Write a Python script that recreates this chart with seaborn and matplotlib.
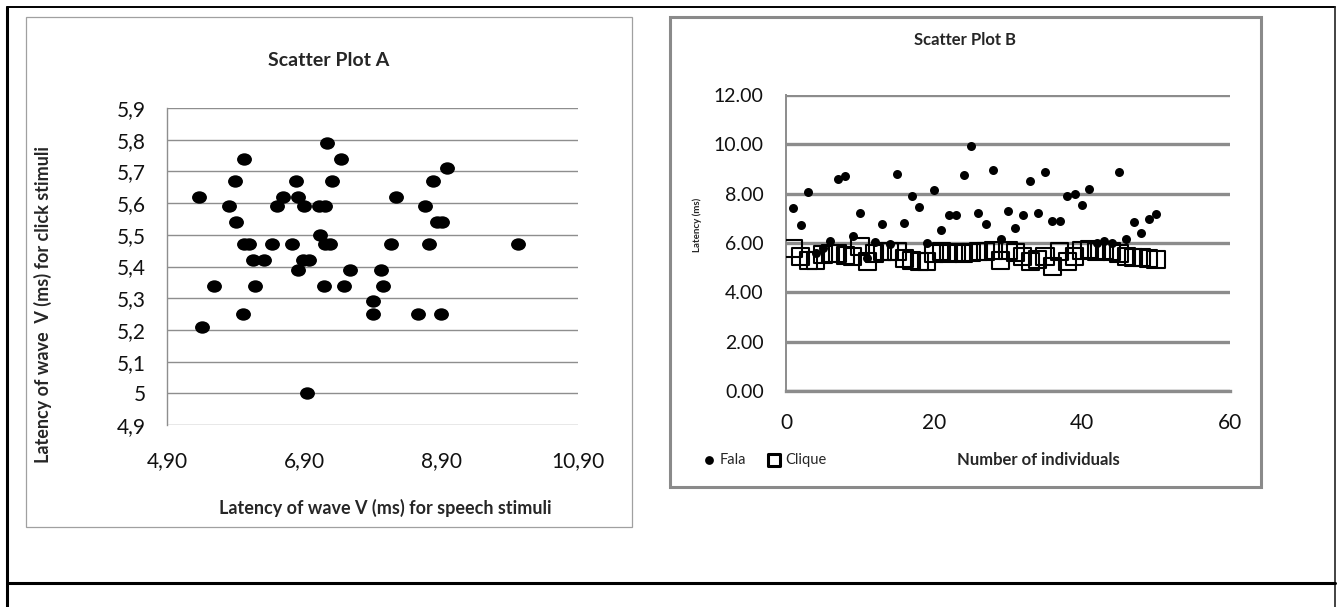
import numpy as np
import pandas as pd
import matplotlib
matplotlib.use('Agg')
import matplotlib.pyplot as plt
from matplotlib.lines import Line2D
from matplotlib.patches import Rectangle
from matplotlib.path import Path
from matplotlib.markers import MarkerStyle
from matplotlib.transforms import Affine2D, Bbox, TransformedBbox
import seaborn as sns

# ---- data: Scatter Plot A (speech vs click latency) ----
speech_lat = [7.23, 6.03, 7.44, 8.99, 5.89, 6.78, 7.31, 8.79, 5.37, 6.60,
              6.81, 8.25, 5.80, 6.51, 6.90, 7.12, 7.21, 8.66, 5.91, 8.84,
              8.91, 7.14, 6.03, 6.10, 6.43, 6.72, 7.21, 7.28, 8.17, 8.73,
              10.02, 6.15, 6.31, 6.88, 6.98, 6.81, 7.57, 8.03, 5.59, 6.18,
              7.19, 7.49, 8.06, 7.91, 6.01, 7.91, 8.56, 8.90, 5.41, 6.94]
click_lat = [5.79, 5.74, 5.74, 5.71, 5.67, 5.67, 5.67, 5.67, 5.62, 5.62,
             5.62, 5.62, 5.59, 5.59, 5.59, 5.59, 5.59, 5.59, 5.54, 5.54,
             5.54, 5.50, 5.47, 5.47, 5.47, 5.47, 5.47, 5.47, 5.47, 5.47,
             5.47, 5.42, 5.42, 5.42, 5.42, 5.39, 5.39, 5.39, 5.34, 5.34,
             5.34, 5.34, 5.34, 5.29, 5.25, 5.25, 5.25, 5.25, 5.21, 5.00]
a_xticks = [4.9, 6.9, 8.9, 10.9]
a_xticklabels = ['4,90', '6,90', '8,90', '10,90']
a_yticks = [4.9, 5.0, 5.1, 5.2, 5.3, 5.4, 5.5, 5.6, 5.7, 5.8, 5.9]
a_yticklabels = ['4,9', '5', '5,1', '5,2', '5,3', '5,4', '5,5', '5,6', '5,7', '5,8', '5,9']

# ---- data: Scatter Plot B (per individual) ----
individual = list(range(1, 51))
fala = [7.43, 6.72, 8.05, 5.60, 5.80, 6.10, 8.60, 8.70, 6.30, 7.22,
        5.40, 6.05, 6.76, 5.94, 8.78, 6.81, 7.89, 7.44, 6.00, 8.13,
        6.51, 7.15, 7.15, 8.75, 9.95, 7.23, 6.78, 8.94, 6.15, 7.30,
        6.60, 7.12, 8.51, 7.22, 8.87, 6.90, 6.90, 7.89, 8.00, 7.53,
        8.20, 5.98, 6.07, 5.98, 8.87, 6.15, 6.85, 6.40, 6.96, 7.16]
clique = [5.76, 5.44, 5.30, 5.30, 5.53, 5.57, 5.57, 5.50, 5.44, 5.84,
          5.23, 5.57, 5.64, 5.64, 5.64, 5.37, 5.30, 5.23, 5.23, 5.57,
          5.64, 5.57, 5.60, 5.57, 5.60, 5.64, 5.64, 5.70, 5.30, 5.70,
          5.60, 5.47, 5.23, 5.33, 5.44, 5.03, 5.64, 5.23, 5.44, 5.70,
          5.73, 5.64, 5.70, 5.64, 5.57, 5.44, 5.41, 5.41, 5.37, 5.33]
b_yticks = [0, 2, 4, 6, 8, 10, 12]
b_yticklabels = ['0.00', '2.00', '4.00', '6.00', '8.00', '10.00', '12.00']
b_xticks = [0, 20, 40, 60]

df_a = pd.DataFrame({'speech': speech_lat, 'click': click_lat})
df_b = pd.DataFrame({'n': individual, 'Fala': fala, 'Clique': clique})

sns.set_theme(style='white')
plt.rcParams['font.family'] = ['Lato', 'DejaVu Sans']

W, H = 1341, 607
fig = plt.figure(figsize=(W / 100, H / 100), dpi=100)


def fx(px):
    return px / W


def fy(py):
    return 1 - py / H


grid_a = '#8e8e8e'
grid_b = '#8c8c8c'

# ---- frame lines and panel boxes ----
fig.add_artist(Line2D([fx(7), fx(7)], [fy(7), fy(607)], color='black', lw=2.2))
fig.add_artist(Line2D([fx(7), fx(1335)], [fy(7), fy(7)], color='black', lw=1.4))
fig.add_artist(Line2D([fx(1335), fx(1335)], [fy(7), fy(607)], color='#222222', lw=1.2))
fig.add_artist(Line2D([fx(7), fx(1335)], [fy(583), fy(583)], color='black', lw=2.2))
fig.add_artist(Rectangle((fx(26), fy(527)), fx(632) - fx(26), fy(17) - fy(527),
                         fill=False, edgecolor='#a0a0a0', lw=0.9, transform=fig.transFigure))
fig.add_artist(Rectangle((fx(670), fy(487)), fx(1261) - fx(670), fy(17) - fy(487),
                         fill=False, edgecolor='#8a8a8a', lw=2.2, transform=fig.transFigure))

# ---- Scatter Plot A ----
ax1 = fig.add_axes([fx(167), fy(425), fx(578) - fx(167), fy(108) - fy(425)])
ell = MarkerStyle(Path.unit_circle().transformed(Affine2D().scale(1.2, 1.0)))
sns.scatterplot(data=df_a, x='speech', y='click', ax=ax1, color='black',
                marker=ell, s=115, edgecolor='black', linewidth=0, zorder=3)
ax1.set_xlim(4.9, 10.9)
ax1.set_ylim(4.9, 5.9)
ax1.set_xticks(a_xticks)
ax1.set_xticklabels(a_xticklabels)
ax1.set_yticks(a_yticks)
ax1.set_yticklabels(a_yticklabels)
ax1.grid(axis='y', color=grid_a, lw=1)
ax1.grid(axis='x', visible=False)
for s in ['top', 'right', 'bottom']:
    ax1.spines[s].set_visible(False)
ax1.spines['left'].set_color(grid_a)
ax1.spines['left'].set_linewidth(1)
ax1.tick_params(axis='y', length=0, pad=15, labelsize=15, labelcolor='#111111')
ax1.tick_params(axis='x', length=0, pad=19, labelsize=15, labelcolor='#111111')
ax1.set_xlabel('')
ax1.set_ylabel('')
fig.text(fx(329), fy(61), 'Scatter Plot A', ha='center', va='center',
         fontsize=14, fontweight='bold')
fig.text(fx(385), fy(508), 'Latency of wave V (ms) for speech stimuli', ha='center',
         va='center', fontsize=13, fontweight='bold')
ylab = fig.text(fx(43), fy(463), 'Latency of wave  V (ms) for click stimuli', rotation=90,
                ha='center', va='bottom', fontsize=13, fontweight='bold')
ylab.set_clip_box(TransformedBbox(Bbox([[0, 0], [1, fy(147)]]), fig.transFigure))
ylab.set_clip_on(True)

# ---- Scatter Plot B ----
ax2 = fig.add_axes([fx(786), fy(391), fx(1230) - fx(786), fy(95) - fy(391)])
sns.scatterplot(data=df_b, x='n', y='Fala', ax=ax2, color='black', marker='o',
                s=42, edgecolor='black', linewidth=0, label='Fala', zorder=3)
sns.scatterplot(data=df_b, x='n', y='Clique', ax=ax2, marker='s', s=150,
                facecolor='none', edgecolor='black', linewidth=1.5, label='Clique', zorder=4)
ax2.set_xlim(0, 60)
ax2.set_ylim(0, 12)
ax2.set_xticks(b_xticks)
ax2.set_yticks(b_yticks)
ax2.set_yticklabels(b_yticklabels)
ax2.grid(axis='y', color=grid_b, lw=2.4)
ax2.grid(axis='x', visible=False)
for s in ['top', 'right']:
    ax2.spines[s].set_visible(False)
ax2.spines['bottom'].set_color(grid_b)
ax2.spines['bottom'].set_linewidth(2.4)
ax2.spines['left'].set_color(grid_b)
ax2.spines['left'].set_linewidth(1.4)
ax2.tick_params(axis='y', length=0, pad=16, labelsize=14, labelcolor='#111111')
ax2.tick_params(axis='x', length=0, pad=16, labelsize=15, labelcolor='#111111')
ax2.set_ylabel('')
ax2.set_xlabel('Number of individuals', fontsize=12, fontweight='bold')
ax2.xaxis.set_label_coords((1038 - 786) / 444, (391 - 460) / 296)
ax2.xaxis.label.set_va('center')
fig.text(fx(965), fy(40), 'Scatter Plot B', ha='center', va='center',
         fontsize=12, fontweight='bold')
fig.text(fx(697), fy(225), 'Latency (ms)', rotation=90, ha='center', va='center',
         fontsize=7, fontweight='bold')
leg = ax2.legend(loc='center left', bbox_to_anchor=(fx(696), fy(460)),
                 bbox_transform=fig.transFigure, ncol=2, frameon=False, fontsize=10.5,
                 handletextpad=0.35, columnspacing=1.5, borderpad=0, handlelength=0.8)
h_fala, h_clique = leg.legend_handles
h_fala.set_sizes([40])
h_clique.set_sizes([70])
h_clique.set_linewidth(2.2)

fig.savefig('out.png', dpi=100, facecolor='white')
